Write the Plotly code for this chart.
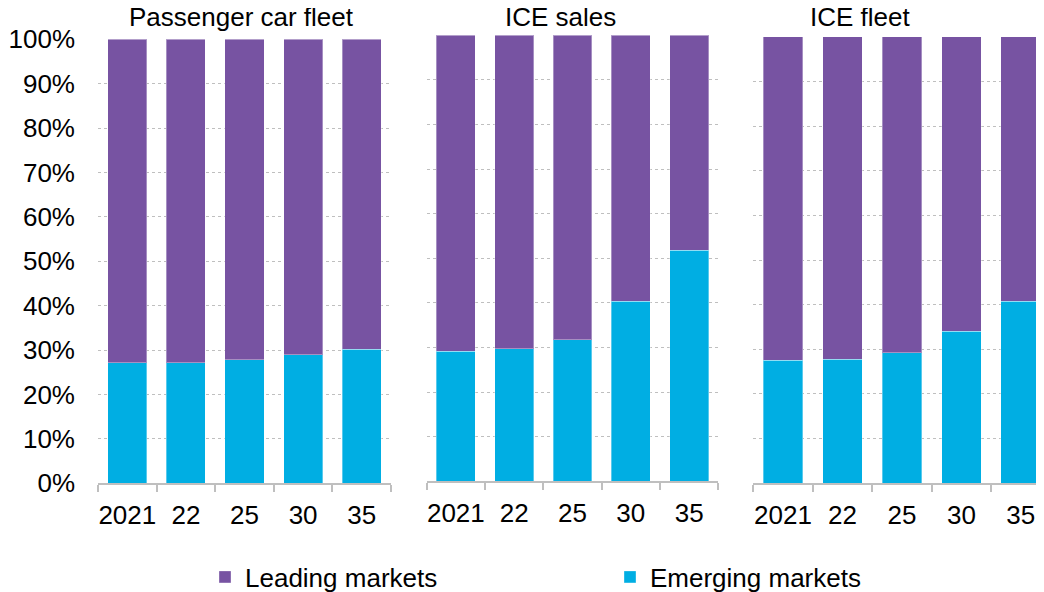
import plotly.graph_objects as go

# ---- data ----
years = ["2021", "22", "25", "30", "35"]
panel_titles = ["Passenger car fleet", "ICE sales", "ICE fleet"]
series_names = ["Leading markets", "Emerging markets"]

emerging_car_fleet = [27.2, 27.2, 27.8, 29.0, 30.2]
leading_car_fleet = [72.8, 72.8, 72.2, 71.0, 69.8]

emerging_ice_sales = [29.2, 29.7, 31.7, 40.4, 51.8]
leading_ice_sales = [70.8, 70.3, 68.3, 59.6, 48.2]

emerging_ice_fleet = [27.5, 27.8, 29.2, 34.1, 40.8]
leading_ice_fleet = [72.5, 72.2, 70.8, 65.9, 59.2]

y_ticks = [0, 10, 20, 30, 40, 50, 60, 70, 80, 90, 100]

# ---- style ----
PAGE_W, PAGE_H = 1044, 592
OFF = 8  # default page body margin
W, H = PAGE_W - OFF, PAGE_H - OFF
PURPLE = "#7753A2"
BLUE = "#00AEE3"
GRID = "#BFBFBF"
FONT = "Liberation Sans, Arial, sans-serif"


def px(x):
    return (x - OFF) / W


def py(y):
    return 1 - (y - OFF) / H


panels = [
    (emerging_car_fleet, leading_car_fleet),
    (emerging_ice_sales, leading_ice_sales),
    (emerging_ice_fleet, leading_ice_fleet),
]

# page-pixel geometry of each panel: (x0, x1, y_top, y_bottom)
geom = [
    (98.0, 391.0, 39.3, 483.3),
    (426.7, 718.3, 35.3, 481.3),
    (753.3, 1044.0, 36.7, 483.3),
]
x_ranges = [[-0.5, 4.5], [-0.5, 4.5], [-0.5, 4.39]]
title_x = [241.5, 560.5, 859.5]

fig = go.Figure()

for i, (emerging, leading) in enumerate(panels):
    n = "" if i == 0 else str(i + 1)
    fig.add_trace(go.Bar(
        x=years, y=emerging, name=series_names[1],
        marker=dict(color=BLUE, line=dict(width=1, color="rgba(255,255,255,0.35)")),
        xaxis="x" + n, yaxis="y" + n,
        showlegend=(i == 0), legend="legend2",
    ))
    fig.add_trace(go.Bar(
        x=years, y=leading, name=series_names[0],
        marker=dict(color=PURPLE, line=dict(width=1, color="rgba(255,255,255,0.35)")),
        xaxis="x" + n, yaxis="y" + n,
        showlegend=(i == 0), legend="legend",
    ))

layout = dict(
    width=W, height=H, autosize=False,
    margin=dict(l=0, r=0, t=0, b=0, autoexpand=False),
    paper_bgcolor="white", plot_bgcolor="white",
    barmode="stack", bargap=0.333,
    font=dict(family=FONT, size=26, color="black"),
)

for i, (x0, x1, yt, yb) in enumerate(geom):
    n = "" if i == 0 else str(i + 1)
    layout["xaxis" + n] = dict(
        domain=[px(x0), min(px(x1), 1.0)],
        anchor="y" + n,
        type="category",
        range=x_ranges[i],
        showline=True, linecolor=GRID, linewidth=1.5,
        ticks="outside", tickson="boundaries", ticklen=7, tickcolor=GRID, tickwidth=1.5,
        tickfont=dict(size=26, family=FONT, color="black"),
        tickangle=0,
        ticklabelstandoff=8,
        automargin=False,
        showgrid=False, zeroline=False, fixedrange=True,
    )
    layout["yaxis" + n] = dict(
        domain=[py(yb), py(yt)],
        anchor="x" + n,
        range=[0, 100],
        tickvals=y_ticks,
        ticktext=[f"{v}%" for v in y_ticks],
        showticklabels=(i == 0),
        tickfont=dict(size=26, family=FONT, color="black"),
        ticklabelstandoff=22,
        automargin=False,
        showgrid=True, gridcolor=GRID, gridwidth=1, griddash="dot",
        zeroline=False, showline=False, ticks="", fixedrange=True,
    )

layout["legend"] = dict(
    orientation="h", x=px(205), xanchor="left", y=py(577), yanchor="middle",
    font=dict(size=26, family=FONT, color="black"), bgcolor="rgba(0,0,0,0)",
)
layout["legend2"] = dict(
    orientation="h", x=px(610), xanchor="left", y=py(577), yanchor="middle",
    font=dict(size=26, family=FONT, color="black"), bgcolor="rgba(0,0,0,0)",
)

annotations = []
for i, t in enumerate(panel_titles):
    annotations.append(dict(
        text=t, xref="paper", yref="paper",
        x=px(title_x[i]), y=py(17), xanchor="center", yanchor="middle",
        showarrow=False, font=dict(size=26, family=FONT, color="black"),
    ))
layout["annotations"] = annotations

fig.update_layout(**layout)
fig.write_html("out.html")
